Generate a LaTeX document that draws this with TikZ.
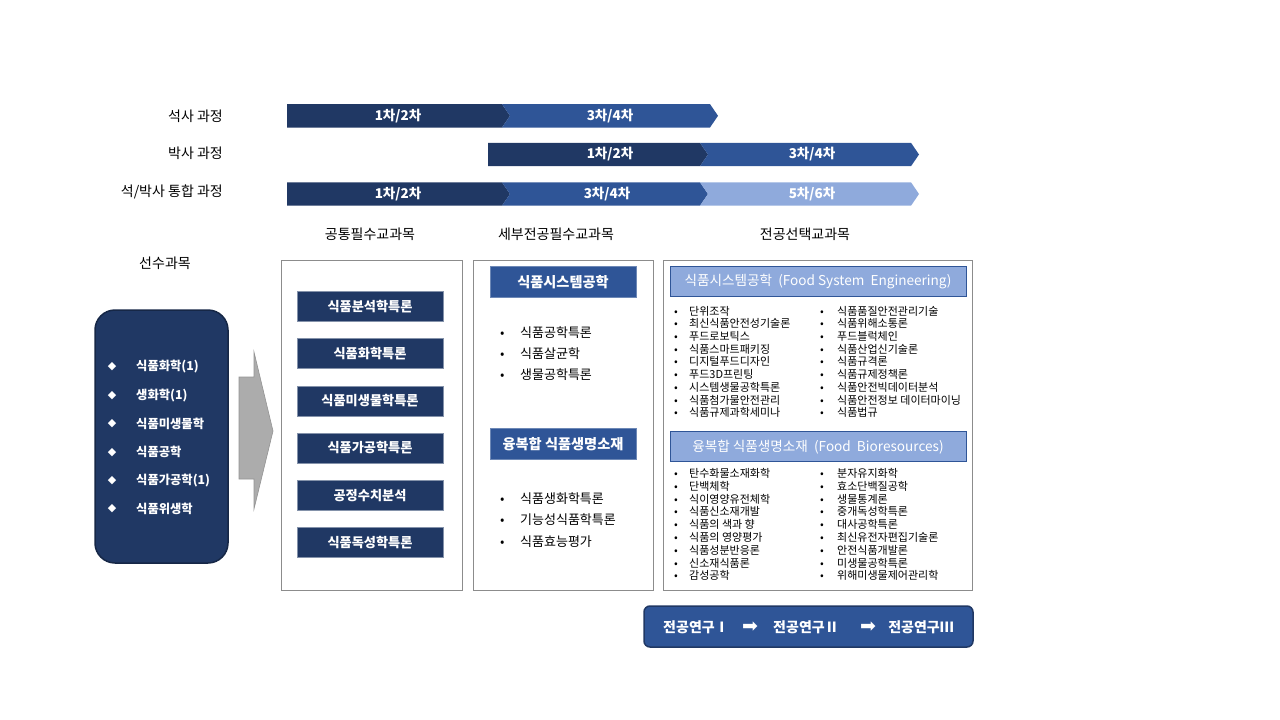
\documentclass[tikz,border=0pt]{standalone}
\usepackage{fontspec}
\setmainfont{Noto Sans CJK KR}
\newfontfamily\dingfont{DejaVu Sans}
\usetikzlibrary{positioning}

\definecolor{navy}{HTML}{203864}
\definecolor{midblue}{HTML}{2F5597}
\definecolor{lightblue}{HTML}{8FAADC}
\definecolor{framegray}{HTML}{8C8C8C}

\newcommand{\fsz}[1]{\fontsize{#1}{#1}\selectfont}
% bars of the time line: first piece and following pieces
\newcommand{\firstbar}[4]{\fill[#4] (#1,#3-11.7) -- (#2,#3-11.7) -- (#2+8,#3) -- (#2,#3+11.7) -- (#1,#3+11.7) -- cycle;}
\newcommand{\nextbar}[4]{\fill[#4] (#1,#3-11.7) -- (#2,#3-11.7) -- (#2+8,#3) -- (#2,#3+11.7) -- (#1,#3+11.7) -- (#1+8,#3) -- cycle;}

\tikzset{
  rowlabel/.style={anchor=east,inner sep=0pt,font=\fsz{14}},
  phase/.style={text=white,inner sep=0pt,font=\bfseries\fsz{13.5}},
  colhead/.style={inner sep=0pt,font=\fsz{14}},
  prereq/.style={anchor=west,inner sep=0pt,text=white,font=\bfseries\fsz{12.3}},
  course/.style={fill=navy,draw=navy!55,line width=0.8pt,text=white,minimum width=146,minimum height=30,inner sep=0pt,font=\bfseries\fsz{13.2}},
  track/.style={fill=midblue,draw=midblue!70,line width=0.8pt,text=white,minimum width=146,minimum height=31,inner sep=0pt,font=\bfseries\fsz{14.2}},
  item/.style={anchor=west,inner sep=0pt,font=\fsz{13}},
  field/.style={fill=lightblue,draw=midblue,line width=0.8pt,text=white,minimum width=296,minimum height=30,inner sep=0pt,font=\fsz{13.6}},
  elective/.style={anchor=west,inner sep=0pt,font=\fsz{11}},
  research/.style={text=white,inner sep=0pt,font=\bfseries\fsz{14}}
}

\begin{document}
\begin{tikzpicture}[x=1pt,y=-1pt]
\useasboundingbox (0,0) rectangle (1280,720);

% time line
\node[rowlabel] (ms) at (223,115.8) {석사 과정};
\node[rowlabel] (phd) at (223,153.5) {박사 과정};
\node[rowlabel] (integ) at (223,192) {석/박사 통합 과정};

\firstbar{287}{502}{115.8}{navy}
\nextbar{502}{710}{115.8}{midblue}
\firstbar{488}{700}{154.5}{navy}
\nextbar{700}{911}{154.5}{midblue}
\firstbar{287}{502}{194}{navy}
\nextbar{502}{700}{194}{midblue}
\nextbar{700}{911}{194}{lightblue}

\node[phase] (ms1) at (398,115.8) {1차/2차};
\node[phase] (ms2) at (610,115.8) {3차/4차};
\node[phase] (phd1) at (610,154.5) {1차/2차};
\node[phase] (phd2) at (812,154.5) {3차/4차};
\node[phase] (int1) at (398,194) {1차/2차};
\node[phase] (int2) at (607,194) {3차/4차};
\node[phase] (int3) at (812,194) {5차/6차};

% column heads
\node[colhead] (pre) at (165,263) {선수과목};
\node[colhead] (common) at (370,234) {공통필수교과목};
\node[colhead] (major) at (556,234) {세부전공필수교과목};
\node[colhead] (elect) at (805,234) {전공선택교과목};

% prerequisites
\draw[fill=navy,draw=navy!70!black,line width=1.5pt,rounded corners=20] (95,310) rectangle (228,563);
\foreach \name [count=\i] in {식품화학(1),생화학(1),식품미생물학,식품공학,식품가공학(1),식품위생학}{
  \node[text=white,inner sep=0pt,font=\dingfont\fsz{11}] (d\i) at (112,367+28.4*\i-28.4) {◆};
  \node[prereq] (p\i) at (136,367+28.4*\i-28.4) {\name};
}
\filldraw[fill=gray!65,draw=gray!85,line width=0.6pt] (239,377) -- (254,377) -- (254,352) -- (273,431) -- (254,509) -- (254,479) -- (239,479) -- cycle;

% frames
\draw[framegray,line width=0.8pt] (281,260) rectangle (462,590);
\draw[framegray,line width=0.8pt] (473,260) rectangle (653,590);
\draw[framegray,line width=0.8pt] (663,260) rectangle (972,590);

% common required courses
\foreach \name [count=\i] in {식품분석학특론,식품화학특론,식품미생물학특론,식품가공학특론,공정수치분석,식품독성학특론}
  \node[course] (c\i) at (370,306.5+47.2*\i-47.2) {\name};

% major required courses
\node[track] (sys) at (563,281.7) {식품시스템공학};
\foreach \name [count=\i] in {식품공학특론,식품살균학,생물공학특론}
  \node[item] (sa\i) at (500,332.7+21.2*\i-21.2) {\makebox[20pt][l]{•}\name};
\node[track] (bio) at (563,444.3) {융복합 식품생명소재};
\foreach \name [count=\i] in {식품생화학특론,기능성식품학특론,식품효능평가}
  \node[item] (sb\i) at (500,498.3+21.7*\i-21.7) {\makebox[20pt][l]{•}\name};

% electives
\node[field] (fsys) at (818,281.3) {식품시스템공학 \ (Food System \ Engineering)};
\foreach \name [count=\i] in {단위조작,최신식품안전성기술론,푸드로보틱스,식품스마트패키징,디지털푸드디자인,푸드3D프린팅,시스템생물공학특론,식품첨가물안전관리,식품규제과학세미나}
  \node[elective] (ea\i) at (674,311+12.7*\i-12.7) {\makebox[15pt][l]{•}\name};
\foreach \name [count=\i] in {식품품질안전관리기술,식품위해소통론,푸드블럭체인,식품산업신기술론,식품규격론,식품규제정책론,식품안전빅데이터분석,식품안전정보 데이터마이닝,식품법규}
  \node[elective] (eb\i) at (820,311+12.7*\i-12.7) {\makebox[17pt][l]{•}\name};
\node[field] (fbio) at (818,446.7) {융복합 식품생명소재 \ (Food \ Bioresources)};
\foreach \name [count=\i] in {탄수화물소재화학,단백체학,식이영양유전체학,식품신소재개발,식품의 색과 향,식품의 영양평가,식품성분반응론,신소재식품론,감성공학}
  \node[elective] (ec\i) at (674,473.3+12.8*\i-12.8) {\makebox[15pt][l]{•}\name};
\foreach \name [count=\i] in {분자유지화학,효소단백질공학,생물통계론,중개독성학특론,대사공학특론,최신유전자편집기술론,안전식품개발론,미생물공학특론,위해미생물제어관리학}
  \node[elective] (ed\i) at (820,473.3+12.8*\i-12.8) {\makebox[17pt][l]{•}\name};

% research
\draw[fill=midblue,draw=navy,line width=1.5pt,rounded corners=6] (644,606) rectangle (973,647);
\node[research] (r1) at (696,627) {전공연구Ⅰ};
\node[research,font=\dingfont\fsz{19}] (a1) at (750,627) {➡};
\node[research] (r2) at (806,627) {전공연구Ⅱ};
\node[research,font=\dingfont\fsz{19}] (a2) at (868,627) {➡};
\node[research] (r3) at (921,627) {전공연구Ⅲ};
\end{tikzpicture}
\end{document}
